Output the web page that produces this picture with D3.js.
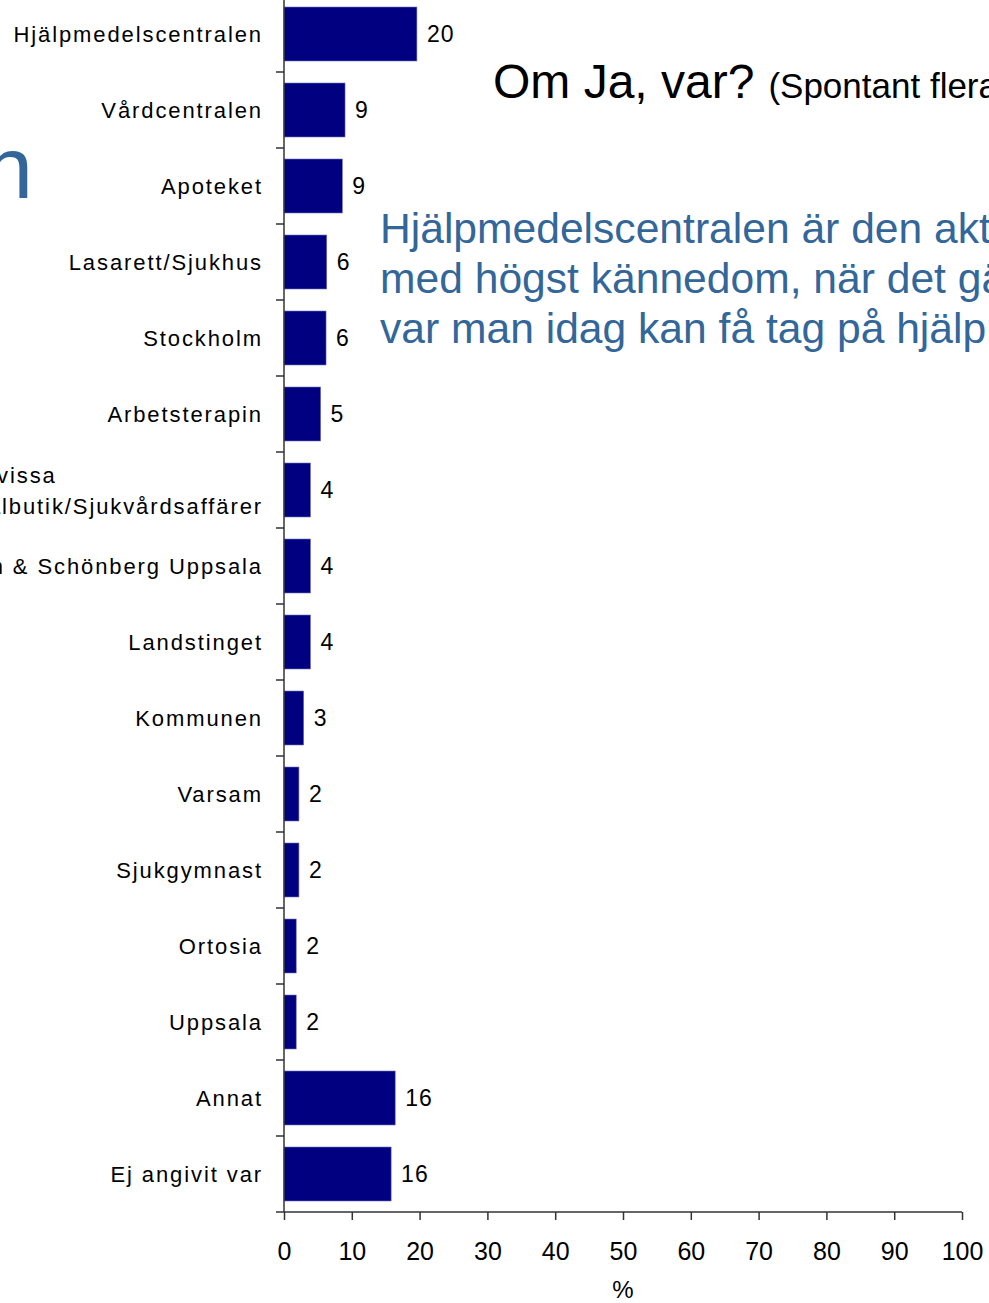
<!DOCTYPE html>
<html>
<head>
<meta charset="utf-8">
<script src="https://cdn.jsdelivr.net/npm/d3@7"></script>
<style>
  body { margin: 0; overflow: hidden; background: white; }
  svg { display: block; font-family: Arial, "Liberation Sans", sans-serif; }
</style>
</head>
<body>
<script>
// categories (top to bottom) and percentages
let categories = ["Hjälpmedelscentralen", "Vårdcentralen", "Apoteket", "Lasarett/Sjukhus", "Stockholm",
                  "Arbetsterapin", "Som i vissa|Specialbutik/Sjukvårdsaffärer", "Sahlin & Schönberg Uppsala",
                  "Landstinget", "Kommunen", "Varsam", "Sjukgymnast", "Ortosia", "Uppsala", "Annat", "Ej angivit var"];
let values = [19.6, 9.0, 8.6, 6.3, 6.2, 5.4, 3.9, 3.9, 3.9, 2.9, 2.2, 2.2, 1.8, 1.8, 16.4, 15.8];
let valueLabels = ["20", "9", "9", "6", "6", "5", "4", "4", "4", "3", "2", "2", "2", "2", "16", "16"];
let xTicks = [0, 10, 20, 30, 40, 50, 60, 70, 80, 90, 100];

let titleMain = "Om Ja, var?";
let titleSub = "(Spontant flera svar)";
let commentLines = ["Hjälpmedelscentralen är den aktör", "med högst kännedom, när det gäller", "var man idag kan få tag på hjälpmedel"];

let svg = d3.select("body").append("svg")
    .attr("width", 989)
    .attr("height", 1303);

let x = d3.scaleLinear().domain([0, 100]).range([284, 962]);
let y = d3.scaleBand().domain(categories).range([-4, 1212]).paddingInner(0.29).paddingOuter(0.145);

// slide title fragment cut at the left edge
svg.append("text")
    .attr("x", 33).attr("y", 198)
    .attr("text-anchor", "end")
    .attr("font-size", 88)
    .attr("fill", "#336699")
    .text("Kännedom om var man kan få hjälpmedel hos personen");

// bars
svg.selectAll(".bar")
    .data(categories)
    .enter()
    .append("rect")
    .attr("class", "bar")
    .attr("x", x(0))
    .attr("y", d => y(d))
    .attr("width", (d, i) => x(values[i]) - x(0))
    .attr("height", y.bandwidth())
    .attr("fill", "#000080")
    .attr("stroke", "#6a6ab0")
    .attr("stroke-width", 0.6);

// value labels
svg.selectAll(".val")
    .data(categories)
    .enter()
    .append("text")
    .attr("class", "val")
    .attr("x", (d, i) => x(values[i]) + 10)
    .attr("y", d => y(d) + y.bandwidth() / 2 + 8)
    .attr("font-size", 23)
    .attr("letter-spacing", 1)
    .attr("fill", "black")
    .text((d, i) => valueLabels[i]);

// category labels (multi-line ones are left aligned as a block)
let labels = svg.selectAll(".cat")
    .data(categories)
    .enter()
    .append("text")
    .attr("class", "cat")
    .attr("font-size", 22)
    .attr("letter-spacing", 1.9)
    .attr("fill", "black");

labels.each(function(d) {
    let parts = d.split("|");
    let cy = y(d) + y.bandwidth() / 2 + 8;
    let t = d3.select(this);
    if (parts.length === 1) {
        t.attr("text-anchor", "end")
            .append("tspan").attr("x", 263).attr("y", cy).text(d);
        return;
    }
    let spans = parts.map((p, k) => t.append("tspan")
        .attr("y", cy + (k - (parts.length - 1) / 2) * 31)
        .text(p));
    let widest = d3.max(spans, s => s.node().getComputedTextLength());
    spans.forEach(s => s.attr("x", 263 - widest));
});

// y axis line and boundary ticks
let axisColor = "#333";
svg.append("line")
    .attr("x1", x(0)).attr("x2", x(0))
    .attr("y1", 0).attr("y2", 1212)
    .attr("stroke", axisColor).attr("stroke-width", 1.5);

let gap = (y.step() - y.bandwidth()) / 2;
svg.selectAll(".ytick")
    .data(categories)
    .enter()
    .append("line")
    .attr("class", "ytick")
    .attr("x1", x(0) - 8).attr("x2", x(0))
    .attr("y1", d => y(d) - gap)
    .attr("y2", d => y(d) - gap)
    .attr("stroke", axisColor).attr("stroke-width", 1.5);

// x axis
let xAxis = svg.append("g")
    .attr("transform", "translate(0,1212)")
    .call(d3.axisBottom(x).tickValues(xTicks).tickSize(8).tickSizeOuter(0).tickPadding(22));

xAxis.select(".domain").attr("stroke", axisColor).attr("stroke-width", 1.5)
    .attr("d", "M" + (x(0) - 8) + ",0H" + x(100));
xAxis.selectAll(".tick line").attr("stroke", axisColor).attr("stroke-width", 1.5);
xAxis.selectAll(".tick text")
    .attr("font-size", 25)
    .attr("fill", "black");

svg.append("text")
    .attr("x", x(50)).attr("y", 1298)
    .attr("text-anchor", "middle")
    .attr("font-size", 24)
    .attr("fill", "black")
    .text("%");

// title
let title = svg.append("text")
    .attr("x", 493).attr("y", 98)
    .attr("fill", "black");
title.append("tspan").attr("font-size", 48).text(titleMain);
title.append("tspan").attr("font-size", 35).attr("dx", 14).text(titleSub);

// comment text
svg.selectAll(".comment")
    .data(commentLines)
    .enter()
    .append("text")
    .attr("class", "comment")
    .attr("x", 380)
    .attr("y", (d, i) => 243 + i * 50)
    .attr("font-size", 42.6)
    .attr("fill", "#336699")
    .text(d => d);
</script>
</body>
</html>
